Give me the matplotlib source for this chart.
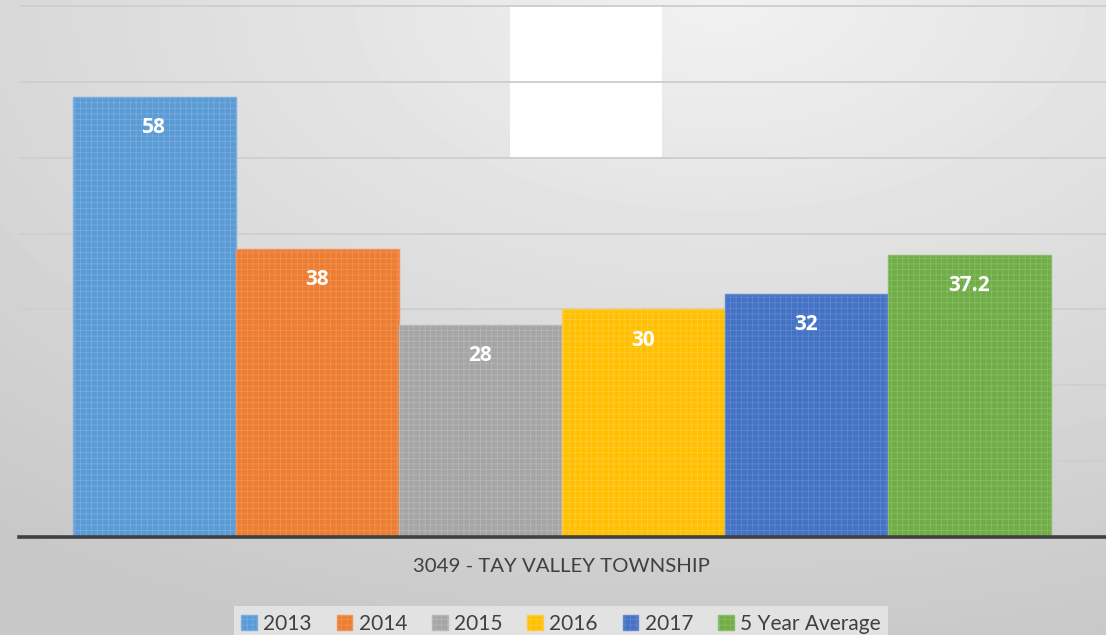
import matplotlib.pyplot as plt
import numpy as np
from matplotlib.patches import Rectangle, Patch

# data
series = ['2013', '2014', '2015', '2016', '2017', '5 Year Average']
values = [58, 38, 28, 30, 32, 37.2]
labels = ['58', '38', '28', '30', '32', '37.2']
category = '3049 - TAY VALLEY TOWNSHIP'
colors = ['#5b9bd5', '#ed7d31', '#a5a5a5', '#ffc000', '#4472c4', '#70ad47']
light = ['#7aaee0', '#f0955a', '#b8b8b8', '#ffcb40', '#6288d0', '#8abd6a']

plt.rcParams['font.family'] = ['Lato', 'DejaVu Sans']

fig = plt.figure(figsize=(11.06, 6.35), dpi=100)

# background gradient
bg = fig.add_axes([0, 0, 1, 1], zorder=-10)
yy, xx = np.mgrid[0:635, 0:1106]
d = np.sqrt(((xx - 720) / 1106.0) ** 2 + (yy / 635.0) ** 2)
d = np.clip(d / 1.05, 0, 1)
img = 0.945 - 0.16 * d
bg.imshow(img, cmap='gray', vmin=0, vmax=1, aspect='auto', extent=[0, 1, 0, 1])
bg.axis('off')

ax = fig.add_axes([19 / 1106, 1 - 537 / 635, 1 - 19 / 1106, 537 / 635])
ax.patch.set_alpha(0)

# white box near top (x in axes coords, y in data)
ax.add_patch(Rectangle(((510 - 19) / 1087, 50), 152 / 1087, 20.2,
                       transform=ax.get_yaxis_transform(), facecolor='white',
                       edgecolor='none', zorder=0.2))

plt.rcParams['hatch.linewidth'] = 0.5
x = np.arange(len(values))
for i in range(len(values)):
    ax.bar(x[i], values[i], width=1.0, color=colors[i], edgecolor=light[i],
           linewidth=1.0, hatch='+++', zorder=2)
    ax.annotate(labels[i], (x[i], values[i]), xytext=(0, -22),
                textcoords='offset points', ha='center', va='center',
                color='white', fontsize=15, fontweight='bold',
                family=['Open Sans', 'DejaVu Sans'], zorder=3)

ax.set_xlim(-0.83, 5.84)
ax.set_ylim(0, 70.8)
ax.set_yticks(np.arange(0, 71, 10))
ax.yaxis.grid(True, color='#cfcfcf', linewidth=1.4, zorder=0)
ax.set_axisbelow(True)
ax.tick_params(left=False, labelleft=False, bottom=False, labelbottom=False)
for s in ['top', 'right', 'left']:
    ax.spines[s].set_visible(False)
ax.spines['bottom'].set_color('#404040')
ax.spines['bottom'].set_linewidth(2.6)
ax.spines['bottom'].set_zorder(4)

fig.text(561 / 1106, 1 - 567 / 635, category, ha='center', va='center',
         fontsize=14.7, color='#404040')

handles = [Patch(facecolor=colors[i], edgecolor=light[i], hatch='+++') for i in range(len(series))]
leg = fig.legend(handles, series, loc='upper center', bbox_to_anchor=(561 / 1106, 1 - 596 / 635),
                 ncol=6, frameon=True, fontsize=15, handlelength=0.75, handleheight=0.75,
                 handletextpad=0.3, columnspacing=1.2, borderpad=0.35, fancybox=False)
leg.get_frame().set_facecolor('#e2e2e2')
leg.get_frame().set_edgecolor('none')
leg.get_frame().set_alpha(1)
for t in leg.get_texts():
    t.set_color('#404040')

fig.savefig('out.png', dpi=100)
